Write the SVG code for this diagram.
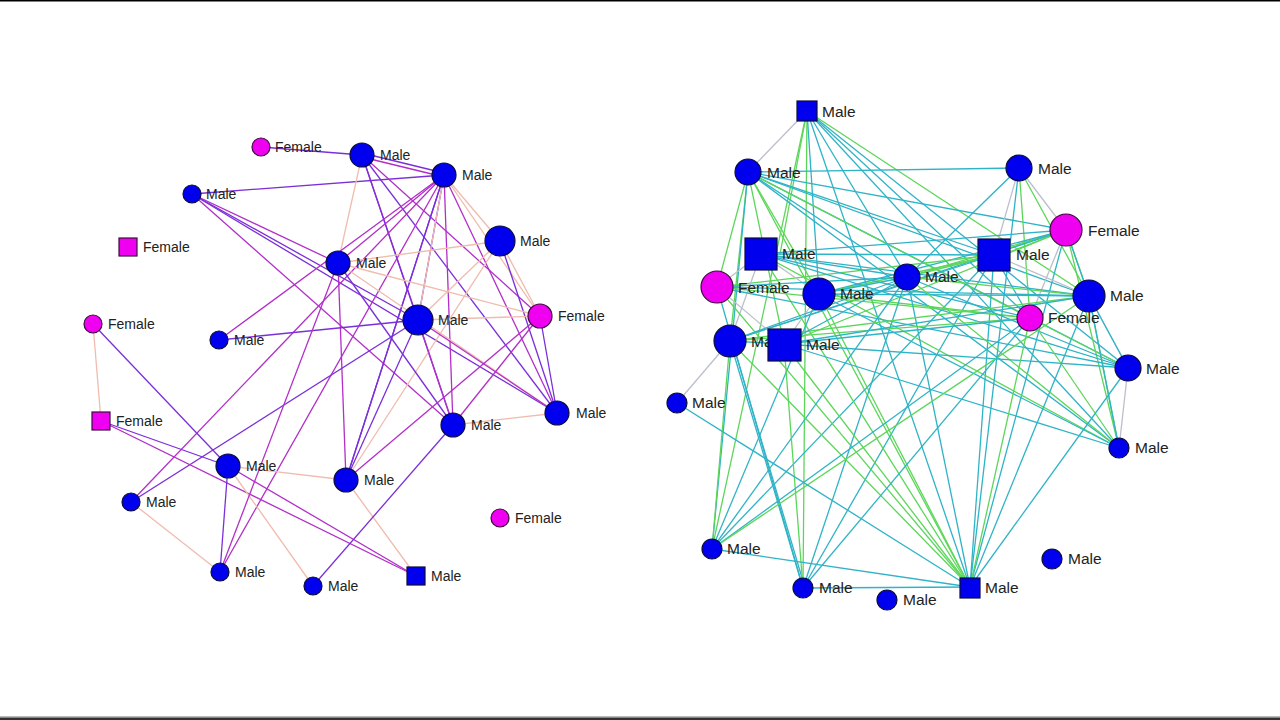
<svg xmlns="http://www.w3.org/2000/svg" width="1280" height="720" viewBox="0 0 1280 720">
<style>
.bg{fill:#ffffff}
.m{fill:#0000ee;stroke:#0c0c3c;stroke-width:1.2}
.f{fill:#f000f0;stroke:#3c0c3c;stroke-width:1.2}
.tl{font-family:"Liberation Sans",Arial,sans-serif;font-size:14px;fill:#222}
.tr{font-family:"Liberation Sans",Arial,sans-serif;font-size:15.5px;fill:#222}
.pu{stroke:#7a2fd8;stroke-width:1.3;fill:none}
.mg{stroke:#b22fc8;stroke-width:1.3;fill:none}
.pe{stroke:#efbcae;stroke-width:1.3;fill:none}
.te{stroke:#2fb3c6;stroke-width:1.3;fill:none}
.gr{stroke:#5cd65a;stroke-width:1.3;fill:none}
.gy{stroke:#bcc0cc;stroke-width:1.3;fill:none}
</style>
<rect class="bg" x="0" y="0" width="1280" height="720"/>
<rect x="0" y="0" width="1280" height="1.5" fill="#000"/>
<rect x="0" y="716" width="1280" height="1.5" fill="#bbb"/>
<rect x="0" y="717.5" width="1280" height="2.5" fill="#333"/>

<g id="connectors-left">
<line class="pu" x1="261" y1="147" x2="362" y2="155"/>
<line class="pu" x1="362" y1="153" x2="444" y2="173"/>
<line class="mg" x1="362" y1="157" x2="444" y2="177"/>
<line class="pu" x1="192" y1="194" x2="444" y2="175"/>
<line class="mg" x1="192" y1="194" x2="338" y2="263"/>
<line class="pu" x1="192" y1="194" x2="418" y2="320"/>
<line class="mg" x1="192" y1="194" x2="453" y2="425"/>
<line class="pu" x1="192" y1="194" x2="557" y2="413"/>
<line class="pe" x1="362" y1="155" x2="338" y2="263"/>
<line class="mg" x1="362" y1="155" x2="418" y2="320"/>
<line class="pu" x1="362" y1="155" x2="453" y2="425"/>
<line class="pu" x1="362" y1="155" x2="557" y2="413"/>
<line class="mg" x1="362" y1="155" x2="540" y2="316"/>
<line class="mg" x1="444" y1="175" x2="338" y2="263"/>
<line class="mg" x1="444" y1="175" x2="219" y2="340"/>
<line class="mg" x1="444" y1="175" x2="131" y2="502"/>
<line class="pu" x1="444" y1="175" x2="346" y2="480"/>
<line class="pu" x1="444" y1="175" x2="346" y2="480"/>
<line class="mg" x1="444" y1="175" x2="453" y2="425"/>
<line class="mg" x1="444" y1="175" x2="220" y2="572"/>
<line class="pe" x1="444" y1="175" x2="500" y2="241"/>
<line class="pe" x1="444" y1="175" x2="540" y2="316"/>
<line class="pu" x1="444" y1="175" x2="418" y2="320"/>
<line class="pe" x1="444" y1="175" x2="418" y2="320"/>
<line class="mg" x1="444" y1="175" x2="557" y2="413"/>
<line class="pe" x1="500" y1="241" x2="338" y2="263"/>
<line class="pe" x1="500" y1="241" x2="418" y2="320"/>
<line class="pe" x1="500" y1="241" x2="346" y2="480"/>
<line class="pe" x1="500" y1="241" x2="540" y2="316"/>
<line class="pu" x1="500" y1="241" x2="557" y2="413"/>
<line class="pe" x1="338" y1="263" x2="540" y2="316"/>
<line class="mg" x1="338" y1="263" x2="346" y2="480"/>
<line class="pu" x1="338" y1="263" x2="453" y2="425"/>
<line class="pe" x1="338" y1="263" x2="557" y2="413"/>
<line class="pu" x1="219" y1="340" x2="418" y2="320"/>
<line class="pe" x1="418" y1="320" x2="540" y2="316"/>
<line class="mg" x1="418" y1="320" x2="453" y2="425"/>
<line class="pu" x1="418" y1="320" x2="346" y2="480"/>
<line class="mg" x1="418" y1="320" x2="557" y2="413"/>
<line class="pu" x1="418" y1="320" x2="131" y2="502"/>
<line class="mg" x1="540" y1="316" x2="346" y2="480"/>
<line class="pu" x1="540" y1="316" x2="557" y2="413"/>
<line class="mg" x1="540" y1="316" x2="453" y2="425"/>
<line class="pe" x1="557" y1="413" x2="453" y2="425"/>
<line class="pe" x1="93" y1="324" x2="101" y2="421"/>
<line class="pu" x1="93" y1="324" x2="228" y2="466"/>
<line class="pu" x1="101" y1="421" x2="228" y2="466"/>
<line class="mg" x1="101" y1="421" x2="416" y2="576"/>
<line class="mg" x1="228" y1="466" x2="416" y2="576"/>
<line class="pe" x1="228" y1="466" x2="346" y2="480"/>
<line class="pu" x1="228" y1="466" x2="220" y2="572"/>
<line class="pe" x1="228" y1="466" x2="313" y2="586"/>
<line class="pe" x1="131" y1="502" x2="220" y2="572"/>
<line class="pe" x1="346" y1="480" x2="416" y2="576"/>
<line class="pu" x1="453" y1="425" x2="313" y2="586"/>
<line class="mg" x1="338" y1="263" x2="220" y2="572"/>
</g>

<g id="connectors-right">
<line class="gy" x1="807" y1="111" x2="748" y2="172"/>
<line class="gr" x1="807" y1="111" x2="780" y2="254"/>
<line class="gr" x1="807" y1="111" x2="1089" y2="296"/>
<line class="gr" x1="807" y1="111" x2="712" y2="549"/>
<line class="gr" x1="807" y1="111" x2="803" y2="588"/>
<line class="te" x1="807" y1="111" x2="907" y2="277"/>
<line class="te" x1="807" y1="111" x2="970" y2="587"/>
<line class="te" x1="807" y1="111" x2="1030" y2="318"/>
<line class="te" x1="807" y1="111" x2="1128" y2="368"/>
<line class="te" x1="807" y1="111" x2="819" y2="294"/>
<line class="te" x1="807" y1="111" x2="1119" y2="448"/>
<line class="te" x1="748" y1="172" x2="1019" y2="168"/>
<line class="te" x1="748" y1="172" x2="1066" y2="230"/>
<line class="te" x1="748" y1="172" x2="994" y2="255"/>
<line class="te" x1="748" y1="172" x2="1089" y2="296"/>
<line class="te" x1="748" y1="172" x2="1128" y2="368"/>
<line class="te" x1="748" y1="172" x2="1119" y2="448"/>
<line class="te" x1="748" y1="172" x2="907" y2="277"/>
<line class="gr" x1="748" y1="172" x2="717" y2="287"/>
<line class="gr" x1="748" y1="172" x2="730" y2="341"/>
<line class="gr" x1="748" y1="172" x2="784" y2="344"/>
<line class="gr" x1="748" y1="172" x2="970" y2="587"/>
<line class="gr" x1="748" y1="172" x2="1030" y2="318"/>
<line class="gr" x1="748" y1="172" x2="819" y2="294"/>
<line class="te" x1="748" y1="172" x2="712" y2="549"/>
<line class="gy" x1="1019" y1="168" x2="994" y2="255"/>
<line class="gy" x1="1019" y1="168" x2="1066" y2="230"/>
<line class="gr" x1="1019" y1="168" x2="1030" y2="318"/>
<line class="gr" x1="1019" y1="168" x2="1089" y2="296"/>
<line class="te" x1="1019" y1="168" x2="907" y2="277"/>
<line class="gy" x1="1066" y1="230" x2="1030" y2="318"/>
<line class="gr" x1="1066" y1="230" x2="994" y2="253"/>
<line class="gr" x1="1066" y1="230" x2="994" y2="258"/>
<line class="gr" x1="1066" y1="230" x2="1089" y2="296"/>
<line class="te" x1="1066" y1="230" x2="1089" y2="296"/>
<line class="gr" x1="1066" y1="230" x2="1119" y2="448"/>
<line class="gr" x1="1066" y1="230" x2="907" y2="277"/>
<line class="te" x1="1066" y1="230" x2="761" y2="254"/>
<line class="te" x1="1066" y1="230" x2="819" y2="294"/>
<line class="te" x1="1066" y1="230" x2="730" y2="341"/>
<line class="gr" x1="1066" y1="230" x2="784" y2="344"/>
<line class="te" x1="1066" y1="230" x2="970" y2="587"/>
<line class="gy" x1="994" y1="255" x2="1089" y2="296"/>
<line class="gr" x1="994" y1="255" x2="907" y2="277"/>
<line class="gr" x1="994" y1="255" x2="819" y2="294"/>
<line class="gr" x1="994" y1="255" x2="717" y2="287"/>
<line class="te" x1="994" y1="255" x2="761" y2="254"/>
<line class="te" x1="994" y1="255" x2="730" y2="341"/>
<line class="te" x1="994" y1="255" x2="803" y2="588"/>
<line class="te" x1="994" y1="255" x2="970" y2="587"/>
<line class="te" x1="994" y1="255" x2="712" y2="549"/>
<line class="te" x1="994" y1="255" x2="1030" y2="318"/>
<line class="gy" x1="1089" y1="296" x2="1128" y2="368"/>
<line class="te" x1="1089" y1="296" x2="1128" y2="368"/>
<line class="gy" x1="1128" y1="368" x2="1119" y2="448"/>
<line class="gy" x1="730" y1="341" x2="677" y2="403"/>
<line class="gy" x1="717" y1="287" x2="761" y2="254"/>
<line class="gy" x1="717" y1="287" x2="784" y2="344"/>
<line class="gy" x1="761" y1="254" x2="819" y2="294"/>
<line class="gy" x1="761" y1="254" x2="730" y2="341"/>
<line class="gy" x1="819" y1="294" x2="784" y2="344"/>
<line class="te" x1="761" y1="254" x2="1089" y2="296"/>
<line class="te" x1="761" y1="254" x2="907" y2="277"/>
<line class="te" x1="761" y1="254" x2="1128" y2="368"/>
<line class="te" x1="761" y1="254" x2="1030" y2="318"/>
<line class="gr" x1="761" y1="254" x2="970" y2="587"/>
<line class="gr" x1="761" y1="254" x2="1119" y2="448"/>
<line class="te" x1="717" y1="287" x2="907" y2="277"/>
<line class="te" x1="717" y1="287" x2="1089" y2="296"/>
<line class="te" x1="717" y1="287" x2="1128" y2="368"/>
<line class="gr" x1="717" y1="287" x2="970" y2="587"/>
<line class="te" x1="717" y1="287" x2="803" y2="588"/>
<line class="gr" x1="717" y1="287" x2="1030" y2="318"/>
<line class="te" x1="819" y1="294" x2="907" y2="277"/>
<line class="te" x1="819" y1="294" x2="1089" y2="296"/>
<line class="te" x1="819" y1="294" x2="1119" y2="448"/>
<line class="gr" x1="819" y1="294" x2="1030" y2="318"/>
<line class="gr" x1="819" y1="294" x2="970" y2="587"/>
<line class="te" x1="819" y1="294" x2="712" y2="549"/>
<line class="gr" x1="907" y1="277" x2="1089" y2="296"/>
<line class="te" x1="907" y1="277" x2="803" y2="588"/>
<line class="te" x1="907" y1="277" x2="712" y2="549"/>
<line class="te" x1="907" y1="277" x2="970" y2="587"/>
<line class="gr" x1="907" y1="277" x2="1119" y2="448"/>
<line class="te" x1="907" y1="277" x2="1128" y2="368"/>
<line class="te" x1="730" y1="341" x2="784" y2="344"/>
<line class="te" x1="730" y1="341" x2="803" y2="588"/>
<line class="te" x1="732" y1="341" x2="805" y2="588"/>
<line class="gr" x1="730" y1="341" x2="970" y2="587"/>
<line class="gr" x1="730" y1="341" x2="1089" y2="296"/>
<line class="gr" x1="730" y1="341" x2="1030" y2="318"/>
<line class="te" x1="730" y1="341" x2="907" y2="277"/>
<line class="gr" x1="730" y1="341" x2="712" y2="549"/>
<line class="te" x1="784" y1="344" x2="1089" y2="296"/>
<line class="te" x1="784" y1="344" x2="1128" y2="368"/>
<line class="te" x1="784" y1="344" x2="1119" y2="448"/>
<line class="te" x1="784" y1="344" x2="907" y2="277"/>
<line class="gr" x1="784" y1="344" x2="803" y2="588"/>
<line class="gr" x1="784" y1="344" x2="970" y2="587"/>
<line class="te" x1="784" y1="344" x2="1030" y2="318"/>
<line class="gr" x1="1030" y1="318" x2="1119" y2="448"/>
<line class="gr" x1="1030" y1="318" x2="1128" y2="368"/>
<line class="te" x1="1030" y1="318" x2="712" y2="549"/>
<line class="te" x1="1030" y1="318" x2="803" y2="588"/>
<line class="gr" x1="1030" y1="318" x2="970" y2="587"/>
<line class="gr" x1="1089" y1="296" x2="712" y2="549"/>
<line class="te" x1="1089" y1="296" x2="970" y2="587"/>
<line class="gr" x1="1089" y1="296" x2="1119" y2="448"/>
<line class="te" x1="1089" y1="296" x2="1119" y2="448"/>
<line class="te" x1="1128" y1="368" x2="970" y2="587"/>
<line class="te" x1="677" y1="403" x2="970" y2="587"/>
<line class="te" x1="712" y1="549" x2="970" y2="587"/>
<line class="te" x1="803" y1="588" x2="970" y2="587"/>
<line class="te" x1="1019" y1="168" x2="970" y2="587"/>
</g>

<g id="L1"><circle class="f" cx="261" cy="147" r="9"/><text class="tl" x="275" y="152">Female</text></g>
<g id="L2"><circle class="m" cx="362" cy="155" r="12"/><text class="tl" x="380" y="160">Male</text></g>
<g id="L3"><circle class="m" cx="444" cy="175" r="12"/><text class="tl" x="462" y="180">Male</text></g>
<g id="L4"><circle class="m" cx="192" cy="194" r="9"/><text class="tl" x="206" y="199">Male</text></g>
<g id="L5"><rect class="f" x="119" y="238" width="18" height="18"/><text class="tl" x="143" y="252">Female</text></g>
<g id="L6"><circle class="m" cx="500" cy="241" r="15"/><text class="tl" x="520" y="246">Male</text></g>
<g id="L7"><circle class="m" cx="338" cy="263" r="12"/><text class="tl" x="356" y="268">Male</text></g>
<g id="L8"><circle class="f" cx="93" cy="324" r="9"/><text class="tl" x="108" y="329">Female</text></g>
<g id="L9"><circle class="m" cx="219" cy="340" r="9"/><text class="tl" x="234" y="345">Male</text></g>
<g id="L10"><circle class="m" cx="418" cy="320" r="15"/><text class="tl" x="438" y="325">Male</text></g>
<g id="L11"><circle class="f" cx="540" cy="316" r="12"/><text class="tl" x="558" y="321">Female</text></g>
<g id="L12"><rect class="f" x="92" y="412" width="18" height="18"/><text class="tl" x="116" y="426">Female</text></g>
<g id="L13"><circle class="m" cx="557" cy="413" r="12"/><text class="tl" x="576" y="418">Male</text></g>
<g id="L14"><circle class="m" cx="453" cy="425" r="12"/><text class="tl" x="471" y="430">Male</text></g>
<g id="L15"><circle class="m" cx="228" cy="466" r="12"/><text class="tl" x="246" y="471">Male</text></g>
<g id="L16"><circle class="m" cx="346" cy="480" r="12"/><text class="tl" x="364" y="485">Male</text></g>
<g id="L17"><circle class="m" cx="131" cy="502" r="9"/><text class="tl" x="146" y="507">Male</text></g>
<g id="L18"><circle class="f" cx="500" cy="518" r="9"/><text class="tl" x="515" y="523">Female</text></g>
<g id="L19"><circle class="m" cx="220" cy="572" r="9"/><text class="tl" x="235" y="577">Male</text></g>
<g id="L20"><circle class="m" cx="313" cy="586" r="9"/><text class="tl" x="328" y="591">Male</text></g>
<g id="L21"><rect class="m" x="407" y="567" width="18" height="18"/><text class="tl" x="431" y="581">Male</text></g>

<g id="R1"><rect class="m" x="797" y="101" width="20" height="20"/><text class="tr" x="822" y="117">Male</text></g>
<g id="R2"><circle class="m" cx="748" cy="172" r="13"/><text class="tr" x="767" y="178">Male</text></g>
<g id="R3"><circle class="m" cx="1019" cy="168" r="13"/><text class="tr" x="1038" y="174">Male</text></g>
<g id="R4"><circle class="f" cx="1066" cy="230" r="16"/><text class="tr" x="1088" y="236">Female</text></g>
<g id="R5"><rect class="m" x="745" y="238" width="32" height="32"/><text class="tr" x="782" y="259">Male</text></g>
<g id="R6"><rect class="m" x="978" y="239" width="32" height="32"/><text class="tr" x="1016" y="260">Male</text></g>
<g id="R7"><circle class="f" cx="717" cy="287" r="16"/><text class="tr" x="738" y="293">Female</text></g>
<g id="R8"><circle class="m" cx="819" cy="294" r="16"/><text class="tr" x="840" y="299">Male</text></g>
<g id="R9"><circle class="m" cx="907" cy="277" r="13"/><text class="tr" x="925" y="282">Male</text></g>
<g id="R10"><circle class="m" cx="1089" cy="296" r="16"/><text class="tr" x="1110" y="301">Male</text></g>
<g id="R11"><circle class="f" cx="1030" cy="318" r="13"/><text class="tr" x="1048" y="323">Female</text></g>
<g id="R12"><circle class="m" cx="730" cy="341" r="16"/><text class="tr" x="751" y="347">Male</text></g>
<g id="R13"><rect class="m" x="768" y="329" width="33" height="32"/><text class="tr" x="806" y="350">Male</text></g>
<g id="R14"><circle class="m" cx="1128" cy="368" r="13"/><text class="tr" x="1146" y="374">Male</text></g>
<g id="R15"><circle class="m" cx="677" cy="403" r="10"/><text class="tr" x="692" y="408">Male</text></g>
<g id="R16"><circle class="m" cx="1119" cy="448" r="10"/><text class="tr" x="1135" y="453">Male</text></g>
<g id="R17"><circle class="m" cx="712" cy="549" r="10"/><text class="tr" x="727" y="554">Male</text></g>
<g id="R18"><circle class="m" cx="803" cy="588" r="10"/><text class="tr" x="819" y="593">Male</text></g>
<g id="R19"><circle class="m" cx="887" cy="600" r="10"/><text class="tr" x="903" y="605">Male</text></g>
<g id="R20"><rect class="m" x="960" y="578" width="20" height="20"/><text class="tr" x="985" y="593">Male</text></g>
<g id="R21"><circle class="m" cx="1052" cy="559" r="10"/><text class="tr" x="1068" y="564">Male</text></g>
</svg>
